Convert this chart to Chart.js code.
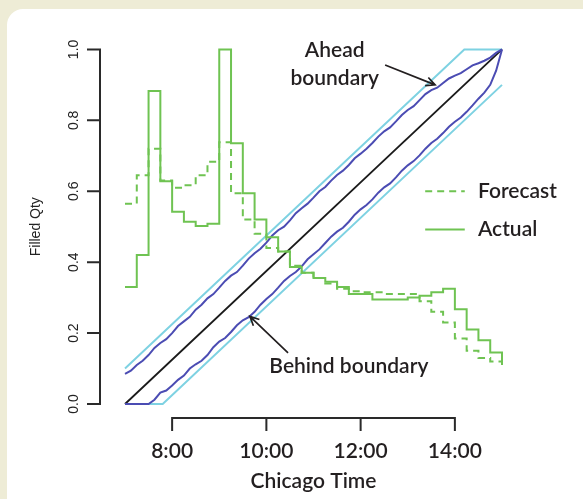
<!DOCTYPE html>
<html>
<head>
<meta charset="utf-8">
<script src="https://cdn.jsdelivr.net/npm/chart.js@4.4.1/dist/chart.umd.min.js"></script>
<style>
  html, body { margin: 0; padding: 0; background: #eeecd6; overflow: hidden; }
  #panel { position: absolute; left: 7px; top: 9px; width: 620px; height: 540px; background: #fff; border-radius: 16px; }
  #chart { position: absolute; left: 0; top: 0; }
</style>
</head>
<body>
<div id="panel"></div>
<canvas id="chart" width="583" height="499"></canvas>
<script>
// quarter-hour bins, Chicago time in hours
const binTimes = [7.00, 7.25, 7.50, 7.75, 8.00, 8.25, 8.50, 8.75, 9.00, 9.25, 9.50, 9.75,
  10.00, 10.25, 10.50, 10.75, 11.00, 11.25, 11.50, 11.75, 12.00, 12.25, 12.50, 12.75,
  13.00, 13.25, 13.50, 13.75, 14.00, 14.25, 14.50, 14.75, 15.00];

const actualQty = [0.33, 0.42, 0.883, 0.628, 0.542, 0.514, 0.502, 0.508, 1.0, 0.735, 0.594, 0.52,
  0.47, 0.43, 0.386, 0.37, 0.355, 0.345, 0.33, 0.31, 0.31, 0.295, 0.295, 0.295,
  0.30, 0.305, 0.315, 0.325, 0.267, 0.21, 0.18, 0.145, 0.11];

const forecastQty = [0.565, 0.645, 0.72, 0.63, 0.61, 0.617, 0.645, 0.683, 0.738, 0.594, 0.52, 0.48,
  0.44, 0.43, 0.39, 0.37, 0.355, 0.34, 0.325, 0.318, 0.315, 0.315, 0.31, 0.31,
  0.31, 0.29, 0.26, 0.23, 0.185, 0.15, 0.13, 0.12, 0.11];

// filled qty of the two example executions, read every 7.5 minutes
const fillTimes = [7.000, 7.125, 7.250, 7.375, 7.500, 7.625, 7.750, 7.875, 8.000, 8.125, 8.250, 8.375,
  8.500, 8.625, 8.750, 8.875, 9.000, 9.125, 9.250, 9.375, 9.500, 9.625, 9.750, 9.875,
  10.000, 10.125, 10.250, 10.375, 10.500, 10.625, 10.750, 10.875, 11.000, 11.125, 11.250, 11.375,
  11.500, 11.625, 11.750, 11.875, 12.000, 12.125, 12.250, 12.375, 12.500, 12.625, 12.750, 12.875,
  13.000, 13.125, 13.250, 13.375, 13.500, 13.625, 13.750, 13.875, 14.000, 14.125, 14.250, 14.375,
  14.500, 14.625, 14.750, 14.875, 15.000];

const aheadQty = [0.085, 0.094, 0.11, 0.122, 0.138, 0.158, 0.172, 0.183, 0.2, 0.22, 0.233, 0.246,
  0.266, 0.28, 0.298, 0.31, 0.328, 0.347, 0.362, 0.372, 0.39, 0.41, 0.425, 0.438,
  0.455, 0.475, 0.49, 0.5, 0.518, 0.538, 0.552, 0.565, 0.582, 0.6, 0.612, 0.63,
  0.646, 0.658, 0.674, 0.693, 0.706, 0.72, 0.736, 0.754, 0.769, 0.78, 0.797, 0.815,
  0.829, 0.84, 0.857, 0.874, 0.885, 0.892, 0.905, 0.918, 0.926, 0.933, 0.944, 0.955,
  0.961, 0.968, 0.977, 0.99, 1.0];

const behindQty = [0, 0, 0, 0, 0, 0.012, 0.032, 0.038, 0.052, 0.068, 0.08, 0.1,
  0.112, 0.122, 0.138, 0.16, 0.176, 0.186, 0.203, 0.222, 0.236, 0.245, 0.26, 0.28,
  0.296, 0.31, 0.328, 0.347, 0.361, 0.372, 0.388, 0.408, 0.422, 0.436, 0.454, 0.472,
  0.486, 0.497, 0.514, 0.534, 0.549, 0.561, 0.577, 0.596, 0.611, 0.622, 0.639, 0.658,
  0.673, 0.685, 0.701, 0.72, 0.736, 0.748, 0.764, 0.782, 0.796, 0.808, 0.824, 0.842,
  0.861, 0.878, 0.9, 0.94, 1.0];

const paceTimes = [7, 15];
const paceQty = [0, 1];
const upperTimes = [7, 14.2, 15];
const upperQty = [0.1, 1.0, 1.0];
const lowerTimes = [7, 7.8, 15];
const lowerQty = [0, 0, 0.9];

const xTickHours = [8, 10, 12, 14];
const yTickValues = [0, 0.2, 0.4, 0.6, 0.8, 1.0];

const GREEN = '#6fc352';
const DARK_BLUE = '#4b4cb3';
const LIGHT_BLUE = '#7ed2e2';
const INK = '#231f20';
const LABEL_FONT = 'Lato, "Open Sans", sans-serif';

const toPoints = (xs, ys) => xs.map((x, i) => ({ x: x, y: ys[i] }));

const lineSet = (label, xs, ys, color, extra) => Object.assign({
  label: label,
  data: toPoints(xs, ys),
  borderColor: color,
  borderWidth: 2,
  pointRadius: 0,
  tension: 0,
  fill: false,
  clip: false
}, extra || {});

// R style detached axes, notes and legend
const rStyle = {
  id: 'rStyle',
  afterDraw(chart) {
    const { ctx, chartArea, scales: { x, y } } = chart;
    ctx.save();
    ctx.strokeStyle = '#2a2a2a';
    ctx.lineWidth = 2;
    ctx.lineCap = 'square';

    const axX = chartArea.left - 25;
    ctx.beginPath();
    ctx.moveTo(axX, y.getPixelForValue(yTickValues[0]));
    ctx.lineTo(axX, y.getPixelForValue(yTickValues[yTickValues.length - 1]));
    yTickValues.forEach(v => {
      const py = y.getPixelForValue(v);
      ctx.moveTo(axX, py);
      ctx.lineTo(axX - 12, py);
    });
    ctx.stroke();

    const axY = chartArea.bottom + 14;
    ctx.beginPath();
    ctx.moveTo(x.getPixelForValue(xTickHours[0]), axY);
    ctx.lineTo(x.getPixelForValue(xTickHours[xTickHours.length - 1]), axY);
    xTickHours.forEach(h => {
      const px = x.getPixelForValue(h);
      ctx.moveTo(px, axY);
      ctx.lineTo(px, axY + 12);
    });
    ctx.stroke();

    // arrows
    const arrow = (h0, v0, h1, v1) => {
      const x0 = x.getPixelForValue(h0), y0 = y.getPixelForValue(v0);
      const x1 = x.getPixelForValue(h1), y1 = y.getPixelForValue(v1);
      const a = Math.atan2(y1 - y0, x1 - x0);
      ctx.beginPath();
      ctx.moveTo(x0, y0);
      ctx.lineTo(x1, y1);
      ctx.moveTo(x1 - 10 * Math.cos(a - 0.45), y1 - 10 * Math.sin(a - 0.45));
      ctx.lineTo(x1, y1);
      ctx.lineTo(x1 - 10 * Math.cos(a + 0.45), y1 - 10 * Math.sin(a + 0.45));
      ctx.stroke();
    };
    ctx.strokeStyle = INK;
    ctx.lineWidth = 1.7;
    ctx.lineCap = 'butt';
    arrow(12.52, 0.956, 13.58, 0.9);
    arrow(10.46, 0.144, 9.65, 0.247);

    ctx.fillStyle = INK;
    ctx.font = '600 21px ' + LABEL_FONT;
    ctx.textAlign = 'center';
    ctx.textBaseline = 'middle';
    ctx.fillText('Ahead', x.getPixelForValue(11.45), y.getPixelForValue(0.997));
    ctx.fillText('boundary', x.getPixelForValue(11.45), y.getPixelForValue(0.92));
    ctx.fillText('Behind boundary', x.getPixelForValue(11.75), y.getPixelForValue(0.106));

    // legend
    const lx0 = x.getPixelForValue(13.37), lx1 = x.getPixelForValue(14.21);
    const rows = [
      { text: 'Forecast', v: 0.6, dash: [7, 5] },
      { text: 'Actual', v: 0.492, dash: [] }
    ];
    rows.forEach(r => {
      const py = y.getPixelForValue(r.v);
      ctx.strokeStyle = GREEN;
      ctx.lineWidth = 2;
      ctx.setLineDash(r.dash);
      ctx.beginPath();
      ctx.moveTo(lx0, py);
      ctx.lineTo(lx1, py);
      ctx.stroke();
      ctx.setLineDash([]);
      ctx.textAlign = 'left';
      ctx.fillText(r.text, x.getPixelForValue(14.49), py);
    });
    ctx.restore();
  }
};

new Chart(document.getElementById('chart').getContext('2d'), {
  type: 'line',
  data: {
    datasets: [
      lineSet('Actual', binTimes, actualQty, GREEN, { stepped: 'before', order: 1 }),
      lineSet('Forecast', binTimes, forecastQty, GREEN, { stepped: 'before', borderDash: [7, 5], order: 2 }),
      lineSet('Ahead fill', fillTimes, aheadQty, DARK_BLUE, { order: 3 }),
      lineSet('Behind fill', fillTimes, behindQty, DARK_BLUE, { order: 4 }),
      lineSet('Linear', paceTimes, paceQty, '#1a1a1a', { borderWidth: 1.8, order: 5 }),
      lineSet('Ahead boundary', upperTimes, upperQty, LIGHT_BLUE, { order: 6 }),
      lineSet('Behind boundary', lowerTimes, lowerQty, LIGHT_BLUE, { order: 7 })
    ]
  },
  options: {
    responsive: false,
    animation: false,
    events: [],
    layout: { padding: { top: 44, right: 81, left: 0, bottom: 0 } },
    plugins: { legend: { display: false }, tooltip: { enabled: false } },
    scales: {
      x: {
        type: 'linear',
        min: 7,
        max: 15,
        grid: { display: false, drawTicks: false },
        border: { display: false },
        afterBuildTicks: s => { s.ticks = xTickHours.map(v => ({ value: v })); },
        afterFit: s => { s.height = 95; },
        ticks: {
          padding: 35,
          autoSkip: false,
          maxRotation: 0,
          color: INK,
          font: { family: LABEL_FONT, size: 21, weight: '600' },
          callback: v => v + ':00'
        },
        title: {
          display: true,
          text: 'Chicago Time',
          color: INK,
          font: { family: LABEL_FONT, size: 21, weight: '600' },
          padding: { top: 0, bottom: 5 }
        }
      },
      y: {
        type: 'linear',
        min: 0,
        max: 1,
        grid: { display: false, drawTicks: false },
        border: { display: false },
        afterBuildTicks: s => { s.ticks = yTickValues.map(v => ({ value: v })); },
        afterFit: s => { s.width = 125; },
        ticks: {
          padding: 41,
          autoSkip: false,
          minRotation: 90,
          maxRotation: 90,
          crossAlign: 'center',
          color: '#222',
          font: { family: '"Liberation Sans", Arial, sans-serif', size: 14 },
          callback: v => v.toFixed(1)
        },
        title: {
          display: true,
          text: 'Filled Qty',
          color: '#222',
          font: { family: '"Liberation Sans", Arial, sans-serif', size: 14 },
          padding: { top: 28 }
        }
      }
    }
  },
  plugins: [rStyle]
});
</script>
</body>
</html>
